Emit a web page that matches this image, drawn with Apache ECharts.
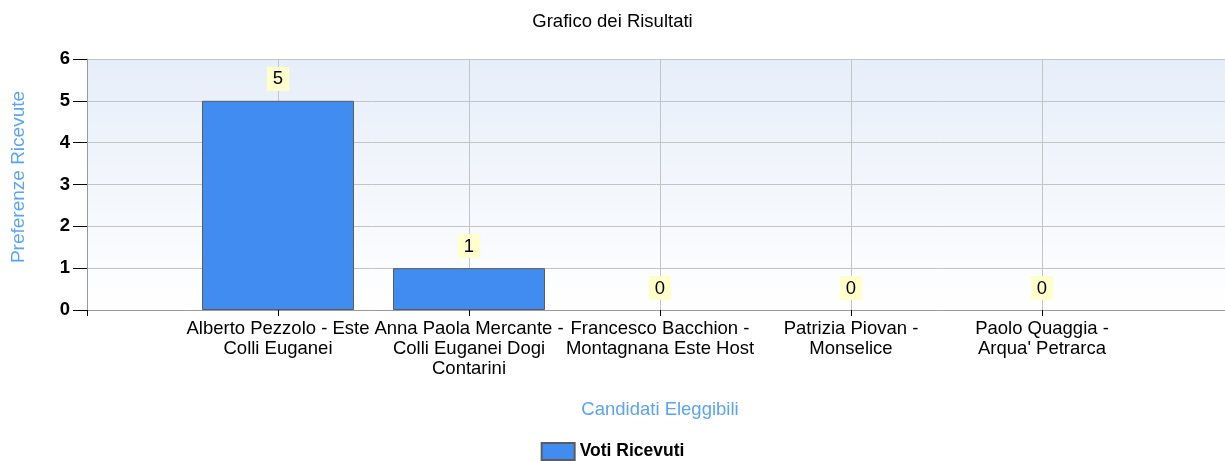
<!DOCTYPE html>
<html>
<head>
<meta charset="utf-8">
<script src="https://cdn.jsdelivr.net/npm/echarts@6/dist/echarts.min.js"></script>
<style>
  html, body { margin: 0; padding: 0; background: #fff; }
  #chart { width: 1225px; height: 461px; }
</style>
</head>
<body>
<div id="chart"></div>
<script>
// empty slots at both ends reproduce the spacing of the original chart
const candidati = [
    '',
    'Alberto Pezzolo - Este\nColli Euganei',
    'Anna Paola Mercante -\nColli Euganei Dogi\nContarini',
    'Francesco Bacchion -\nMontagnana Este Host',
    'Patrizia Piovan -\nMonselice',
    'Paolo Quaggia -\nArqua\' Petrarca',
    ''
];
const votiRicevuti = ['-', 5, 1, 0, 0, 0, '-'];

const FONT = '"Liberation Sans", Arial, sans-serif';
const FS = 18.5;
const chart = echarts.init(document.getElementById('chart'));

// zero bars have no visible outline in the original
const barData = votiRicevuti.map(v => (v === 0 ? { value: v, itemStyle: { borderWidth: 0 } } : v));

chart.setOption({
    animation: false,
    textStyle: { fontFamily: FONT },
    title: {
        text: 'Grafico dei Risultati',
        left: 'center',
        top: 7,
        textStyle: { fontSize: FS, fontWeight: 'normal', color: '#000', fontFamily: FONT },
    },
    legend: {
        data: ['Voti Ricevuti'],
        left: 'center',
        top: 437,
        icon: 'rect',
        itemWidth: 33,
        itemHeight: 17,
        itemGap: 8,
        textStyle: { fontSize: 17.5, fontWeight: 'bold', color: '#000', fontFamily: FONT },
    },
    grid: {
        left: 87,
        right: -8,
        top: 59,
        bottom: 151,
        outerBoundsMode: 'none',
        containLabel: false,
        show: true,
        borderWidth: 0,
        backgroundColor: new echarts.graphic.LinearGradient(0, 0, 0, 1, [
            { offset: 0, color: '#e6eef9' },
            { offset: 1, color: '#ffffff' },
        ]),
    },
    xAxis: {
        type: 'category',
        data: candidati,
        boundaryGap: false,
        name: 'Candidati Eleggibili',
        nameLocation: 'middle',
        nameGap: 90,
        nameTextStyle: { color: '#5aa4f5', fontSize: FS, fontFamily: FONT },
        axisLine: { lineStyle: { color: '#9a9a9a', width: 1 } },
        axisTick: { show: true, length: 6, lineStyle: { color: '#000' } },
        axisLabel: {
            interval: 0,
            color: '#000',
            fontSize: FS,
            lineHeight: 20,
            margin: 9,
            fontFamily: FONT,
        },
        splitLine: { show: true, lineStyle: { color: '#c4c4c4', width: 1 } },
    },
    yAxis: {
        type: 'value',
        min: 0,
        max: 6,
        interval: 1,
        name: 'Preferenze Ricevute',
        nameLocation: 'middle',
        nameRotate: 90,
        nameGap: 59,
        nameTextStyle: { color: '#5aa4f5', fontSize: 19, fontFamily: FONT, padding: [0, 0, 0, 15] },
        axisLine: { show: true, lineStyle: { color: '#9a9a9a', width: 1 } },
        axisTick: { show: true, length: 14, lineStyle: { color: '#000' } },
        axisLabel: {
            color: '#000',
            fontSize: FS,
            fontWeight: 'bold',
            margin: 17,
            fontFamily: FONT,
        },
        splitLine: { show: true, lineStyle: { color: '#c4c4c4', width: 1 } },
    },
    series: [
        {
            name: 'Voti Ricevuti',
            type: 'bar',
            data: barData,
            barWidth: 152,
            itemStyle: { color: '#418cf0', borderColor: '#5c5c5c', borderWidth: 1 },
            label: {
                show: true,
                position: 'top',
                distance: 10,
                color: '#000',
                fontSize: FS,
                fontFamily: FONT,
                backgroundColor: '#ffffcc',
                padding: [3, 6, 2, 6],
            },
        },
    ],
});
</script>
</body>
</html>
